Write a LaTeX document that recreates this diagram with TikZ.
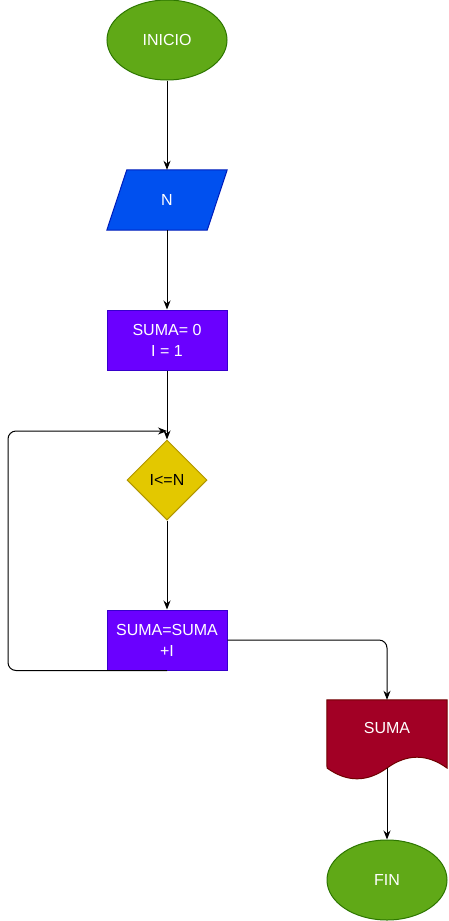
\documentclass[tikz,border=0pt]{standalone}
\usepackage{fontspec}
\setmainfont{Liberation Sans}
\usetikzlibrary{arrows.meta,shapes.geometric,backgrounds}
\definecolor{Verde}{HTML}{60A917}
\definecolor{VerdeB}{HTML}{2D7600}
\definecolor{Azul}{HTML}{0050EF}
\definecolor{AzulB}{HTML}{001DBC}
\definecolor{Morado}{HTML}{6A00FF}
\definecolor{MoradoB}{HTML}{3700CC}
\definecolor{Amarillo}{HTML}{E3C800}
\definecolor{AmarilloB}{HTML}{B09500}
\definecolor{Rojo}{HTML}{A20025}
\definecolor{RojoB}{HTML}{6F0000}

\begin{document}
\begin{tikzpicture}[x=1pt,y=-1pt,>={Stealth[length=9pt,width=7pt]},
    every node/.style={font=\fontsize{16}{21}\selectfont,text=white,align=center,inner sep=0pt},
    terminal/.style={ellipse,draw=VerdeB,fill=Verde,line width=1pt,minimum width=120pt,minimum height=80pt},
    datobox/.style={rectangle,minimum width=120pt,minimum height=60pt},
    proceso/.style={rectangle,draw=MoradoB,fill=Morado,line width=1pt,minimum width=120pt,minimum height=60pt},
    decision/.style={diamond,draw=AmarilloB,fill=Amarillo,line width=1pt,minimum width=80pt,minimum height=80pt,aspect=1,text=black},
    docbox/.style={rectangle,minimum width=120pt,minimum height=56pt},
    flecha/.style={->,line width=1pt}]
    \useasboundingbox (0,0) rectangle (448,921);
    \node[terminal] (inicio) at (167,40) {INICIO};
    \node[datobox] (datos) at (167,200) {N};
    \node[proceso] (init) at (167,340) {SUMA= 0\\I = 1};
    \node[decision] (cond) at (167,480) {I<=N};
    \node[proceso] (bucle) at (167,640) {SUMA=SUMA\\+I};
    \node[docbox] (salida) at (387,728) {SUMA};
    \node[terminal] (fin) at (387,880) {FIN};
    \coordinate (retorno) at (167,431);
    \begin{scope}[on background layer]
      \fill[white] (0,0) rectangle (448,921);
      \filldraw[fill=Azul,draw=AzulB,line width=1pt] ([xshift=20pt]datos.north west) -- (datos.north east)
        -- ([xshift=-20pt]datos.south east) -- (datos.south west) -- cycle;
      \filldraw[fill=Rojo,draw=RojoB,line width=1pt] (salida.north west) -- (salida.north east)
        -- (447,768) .. controls (427,753.6) and (407,753.6) .. (387,768)
        .. controls (367,782.4) and (347,782.4) .. (327,768) -- cycle;
    \end{scope}
    \draw[flecha] (inicio) -- (datos);
    \draw[flecha] (datos) -- (init);
    \draw[flecha] (init) -- (cond);
    \draw[flecha] (cond) -- (bucle);
    \draw[flecha,rounded corners=8pt] (bucle.south) -| (8,431) -- (retorno);
    \draw[flecha,rounded corners=8pt] (bucle.east) -| (salida.north);
    \draw[flecha] ([yshift=-12pt]salida.south) -- (fin);
  \end{tikzpicture}
\end{document}
